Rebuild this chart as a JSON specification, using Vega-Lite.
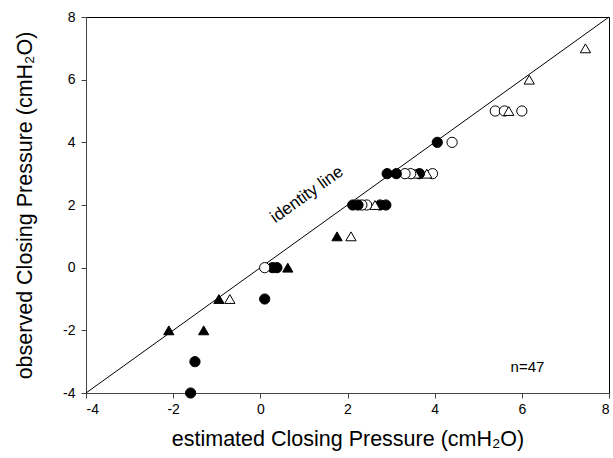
{
  "$schema": "https://vega.github.io/schema/vega-lite/v6.json",
  "width": 523,
  "height": 376,
  "autosize": {"type": "none"},
  "padding": {"left": 86, "top": 17, "right": 4, "bottom": 65},
  "background": "white",
  "config": {
    "font": "Liberation Sans",
    "view": {"stroke": "black", "strokeWidth": 1},
    "axis": {
      "grid": false,
      "domainColor": "#444",
      "tickColor": "#444",
      "labelColor": "black",
      "titleColor": "black",
      "labelFontSize": 14,
      "titleFontSize": 21.5,
      "titleFontWeight": "normal",
      "tickSize": 5,
      "labelFont": "Liberation Sans",
      "titleFont": "Liberation Sans"
    }
  },
  "datasets": {
    "pts": [
      {"est": -1.6, "obs": -4, "group": "A"},
      {"est": -1.5, "obs": -3, "group": "A"},
      {"est": -2.1, "obs": -2, "group": "C"},
      {"est": -1.3, "obs": -2, "group": "C"},
      {"est": -0.95, "obs": -1, "group": "C"},
      {"est": -0.7, "obs": -1, "group": "D"},
      {"est": 0.1, "obs": -1, "group": "A"},
      {"est": 0.63, "obs": 0, "group": "C"},
      {"est": 0.38, "obs": 0, "group": "A"},
      {"est": 0.28, "obs": 0, "group": "A"},
      {"est": 0.1, "obs": 0, "group": "B"},
      {"est": 1.76, "obs": 1, "group": "C"},
      {"est": 2.08, "obs": 1, "group": "D"},
      {"est": 2.88, "obs": 2, "group": "A"},
      {"est": 2.75, "obs": 2, "group": "A"},
      {"est": 2.63, "obs": 2, "group": "D"},
      {"est": 2.44, "obs": 2, "group": "B"},
      {"est": 2.33, "obs": 2, "group": "B"},
      {"est": 2.24, "obs": 2, "group": "A"},
      {"est": 2.12, "obs": 2, "group": "A"},
      {"est": 3.95, "obs": 3, "group": "B"},
      {"est": 3.82, "obs": 3, "group": "D"},
      {"est": 3.65, "obs": 3, "group": "A"},
      {"est": 3.55, "obs": 3, "group": "D"},
      {"est": 3.45, "obs": 3, "group": "B"},
      {"est": 3.32, "obs": 3, "group": "B"},
      {"est": 3.12, "obs": 3, "group": "A"},
      {"est": 2.91, "obs": 3, "group": "A"},
      {"est": 4.4, "obs": 4, "group": "B"},
      {"est": 4.06, "obs": 4, "group": "A"},
      {"est": 5.39, "obs": 5, "group": "B"},
      {"est": 5.6, "obs": 5, "group": "B"},
      {"est": 5.7, "obs": 5, "group": "D"},
      {"est": 6.0, "obs": 5, "group": "B"},
      {"est": 6.17, "obs": 6, "group": "D"},
      {"est": 7.46, "obs": 7, "group": "D"}
    ],
    "identity": [
      {"est": -4, "obs": -4},
      {"est": 8, "obs": 8}
    ],
    "labels": [
      {"est": 1.07, "obs": 2.33, "text": "identity line", "kind": "id"},
      {"est": 6.13, "obs": -3.17, "text": "n=47", "kind": "n"}
    ]
  },
  "layer": [
    {
      "data": {"name": "identity"},
      "mark": {"type": "line", "color": "black", "strokeWidth": 1},
      "encoding": {
        "x": {
          "field": "est", "type": "quantitative",
          "scale": {"domain": [-4, 8], "nice": false, "zero": false},
          "axis": {"values": [-4, -2, 0, 2, 4, 6, 8], "labelExpr": "'' + datum.value", "title": "estimated Closing Pressure (cmH₂O)", "titlePadding": 12, "labelPadding": 4}
        },
        "y": {
          "field": "obs", "type": "quantitative",
          "scale": {"domain": [-4, 8], "nice": false, "zero": false},
          "axis": {"values": [-4, -2, 0, 2, 4, 6, 8], "labelExpr": "'' + datum.value", "title": "observed Closing Pressure (cmH₂O)", "titlePadding": 26, "labelPadding": 6}
        }
      }
    },
    {
      "data": {"name": "pts"},
      "mark": {"type": "point", "filled": false, "stroke": "black", "strokeWidth": 1, "opacity": 1, "size": 105},
      "encoding": {
        "x": {"field": "est", "type": "quantitative"},
        "y": {"field": "obs", "type": "quantitative"},
        "shape": {
          "field": "group", "type": "nominal",
          "scale": {"domain": ["A", "B", "C", "D"], "range": ["circle", "circle", "triangle-up", "triangle-up"]},
          "legend": null
        },
        "fill": {
          "field": "group", "type": "nominal",
          "scale": {"domain": ["A", "B", "C", "D"], "range": ["black", "white", "black", "white"]},
          "legend": null
        }
      }
    },
    {
      "data": {"name": "labels"},
      "transform": [{"filter": "datum.kind == 'id'"}],
      "mark": {"type": "text", "angle": -35.7, "fontSize": 17, "font": "Liberation Sans", "color": "black", "align": "center", "baseline": "middle"},
      "encoding": {
        "x": {"field": "est", "type": "quantitative"},
        "y": {"field": "obs", "type": "quantitative"},
        "text": {"field": "text"}
      }
    },
    {
      "data": {"name": "labels"},
      "transform": [{"filter": "datum.kind == 'n'"}],
      "mark": {"type": "text", "fontSize": 15, "font": "Liberation Sans", "color": "black", "align": "center", "baseline": "middle"},
      "encoding": {
        "x": {"field": "est", "type": "quantitative"},
        "y": {"field": "obs", "type": "quantitative"},
        "text": {"field": "text"}
      }
    }
  ]
}
